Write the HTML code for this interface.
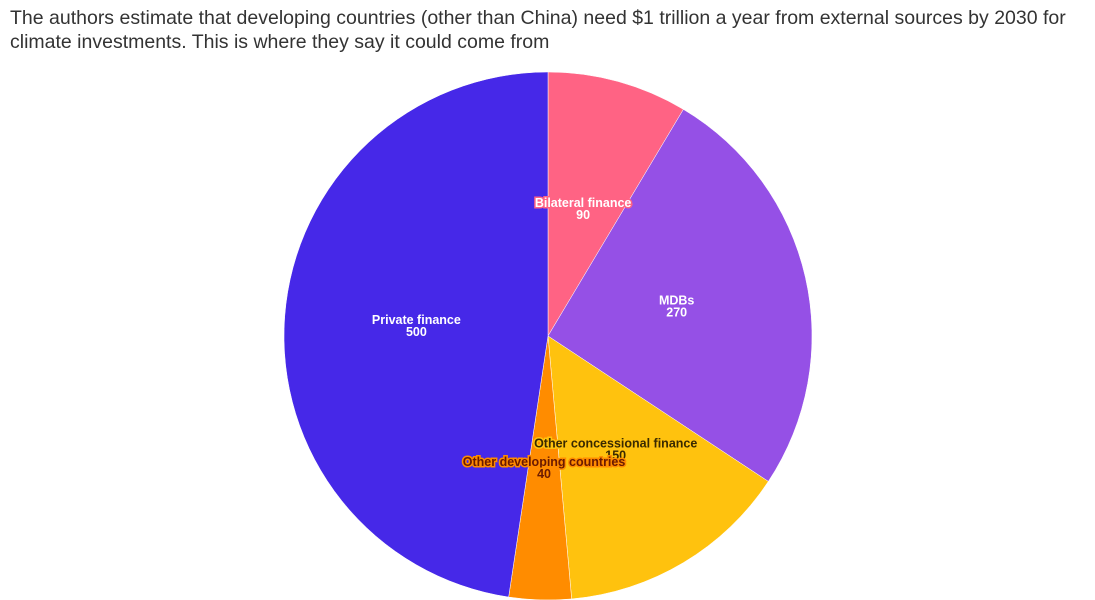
<!DOCTYPE html>
<html><head><meta charset="utf-8"><style>
body{margin:0;width:1095px;height:600px;background:#fff;overflow:hidden;font-family:"Liberation Sans",sans-serif}
#title{position:absolute;left:10px;top:6px;font-size:19.5px;line-height:24px;color:#333;width:1080px}
svg{position:absolute;left:0;top:0}
</style></head><body>
<div id="title">The authors estimate that developing countries (other than China) need $1 trillion a year from external sources by 2030 for climate investments. This is where they say it could come from</div>
<svg id="chart" width="1095" height="600"></svg>
<script>
const categories=["Bilateral finance","MDBs","Other concessional finance","Other developing countries","Private finance"];
const values=[90,270,150,40,500];
const colors=["#ff6384","#9550e6","#ffc20e","#ff8c00","#4628e8"];
const textColors=["#fff","#fff","#3a2a00","#6b1a00","#fff"];
const haloColors=["#ff6384","#9550e6","#ffc20e","#ff8c00","#4628e8"];
const NS="http://www.w3.org/2000/svg";
const svg=document.getElementById('chart');
const cx=548,cy=336,r=264;
const total=values.reduce((a,b)=>a+b,0);
function pt(a,rr){return [cx+rr*Math.sin(a),cy-rr*Math.cos(a)];}
let a0=0;
const labels=[];
values.forEach((v,i)=>{
  const a1=a0+v/total*2*Math.PI;
  const p0=pt(a0,r),p1=pt(a1,r);
  const large=(a1-a0)>Math.PI?1:0;
  const path=document.createElementNS(NS,'path');
  path.setAttribute('d',`M${cx},${cy}L${p0[0]},${p0[1]}A${r},${r} 0 ${large} 1 ${p1[0]},${p1[1]}Z`);
  path.setAttribute('fill',colors[i]);
  path.setAttribute('stroke','#fff');
  path.setAttribute('stroke-width','0.5');
  
  
  svg.appendChild(path);
  const m=(a0+a1)/2;
  labels.push([pt(m,r*0.5),i]);
  a0=a1;
});
labels.forEach(([p,i])=>{
  const g=document.createElementNS(NS,'g');
  
  
  [[categories[i],-2],[String(values[i]),10]].forEach(([t,dy])=>{
    const tx=document.createElementNS(NS,'text');
    tx.setAttribute('x',p[0]);tx.setAttribute('y',p[1]+dy);
    tx.setAttribute('text-anchor','middle');
    tx.setAttribute('font-size','12.5');
    tx.setAttribute('font-weight','bold');
    tx.setAttribute('fill',textColors[i]);
    tx.setAttribute('stroke',haloColors[i]);
    tx.setAttribute('stroke-width','3');
    tx.setAttribute('paint-order','stroke');
    tx.textContent=t;
    g.appendChild(tx);
  });
  svg.appendChild(g);
});
</script>
</body></html>
